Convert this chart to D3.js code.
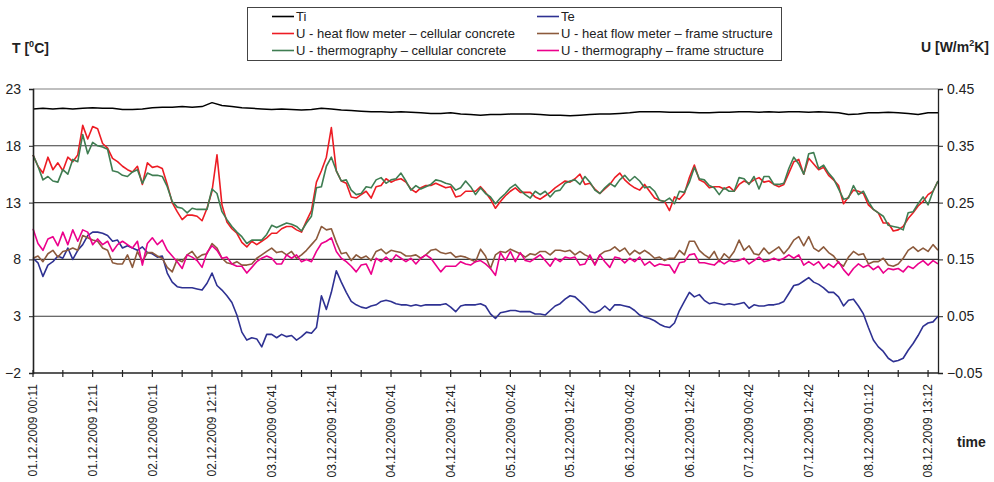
<!DOCTYPE html>
<html>
<head>
<meta charset="utf-8">
<script src="https://cdn.jsdelivr.net/npm/d3@7"></script>
<style>
  html, body { margin: 0; padding: 0; background: #fff; }
  svg { display: block; font-family: "Liberation Sans", Arial, Helvetica, sans-serif; }
</style>
</head>
<body>
<svg id="chart" width="994" height="482"></svg>
<script>
// ---- data (hours since 01.12.2009 00:11) ----
const tiStep = 2;   // hours between Ti readings
const hourStep = 1; // hours between other readings

// Ti [°C]
const tiValues = [
  21.25, 21.3, 21.25, 21.3, 21.25, 21.3, 21.35, 21.3, 21.3, 21.2,
  21.2, 21.25, 21.35, 21.4, 21.4, 21.45, 21.4, 21.45, 21.8, 21.55,
  21.45, 21.35, 21.3, 21.25, 21.2, 21.25, 21.2, 21.15, 21.2, 21.3,
  21.25, 21.15, 21.1, 21.05, 21.0, 21.0, 20.95, 21.0, 20.95, 20.9,
  20.85, 20.85, 20.9, 20.8, 20.75, 20.7, 20.75, 20.75, 20.8, 20.8,
  20.8, 20.75, 20.7, 20.7, 20.65, 20.7, 20.75, 20.8, 20.8, 20.85,
  20.9, 21.0, 21.0, 21.0, 20.95, 20.95, 20.95, 20.9, 20.9, 20.95,
  20.95, 21.0, 21.0, 20.95, 21.0, 20.95, 21.0, 21.0, 20.95, 21.0,
  20.95, 20.9, 20.75, 20.8, 20.9, 20.9, 20.95, 20.9, 20.85, 20.75,
  20.9, 20.9
];

// Te [°C]
const teValues = [
  8.1, 7.7, 6.5, 7.5, 7.8, 8.3, 8.1, 9.0, 8.0, 8.8,
  9.3, 10.1, 10.4, 10.4, 10.3, 10.1, 9.6, 9.7, 9.0, 9.2,
  9.0, 8.8, 9.1, 8.6, 8.5, 8.2, 8.3, 6.8, 6.0, 5.6,
  5.5, 5.5, 5.5, 5.4, 5.3, 5.9, 6.8, 5.7, 5.3, 4.8,
  4.2, 3.1, 1.6, 0.9, 1.1, 1.0, 0.3, 1.4, 1.4, 1.1,
  1.4, 1.2, 1.3, 0.9, 1.2, 1.6, 1.5, 2.0, 4.8, 3.6,
  5.1, 7.0, 6.0, 5.1, 4.3, 4.0, 3.8, 3.7, 3.9, 4.0,
  4.3, 4.4, 4.3, 4.1, 4.0, 4.0, 3.9, 4.0, 3.9, 4.0,
  4.0, 4.0, 4.0, 4.1, 3.8, 3.4, 3.9, 4.0, 4.0, 4.0,
  4.1, 3.9, 3.2, 2.8, 3.3, 3.4, 3.5, 3.5, 3.4, 3.4,
  3.4, 3.2, 3.2, 3.1, 3.5, 3.9, 4.1, 4.5, 4.8, 4.7,
  4.3, 3.9, 3.4, 3.3, 3.5, 3.9, 3.5, 4.0, 4.0, 3.9,
  3.8, 3.5, 3.1, 2.9, 2.8, 2.6, 2.3, 2.1, 2.0, 2.4,
  3.5, 4.3, 5.1, 4.7, 4.9, 4.4, 4.1, 4.2, 4.1, 4.0,
  4.1, 4.0, 4.1, 4.2, 3.7, 4.0, 3.9, 3.9, 4.0, 4.0,
  4.1, 4.3, 5.0, 5.7, 5.8, 6.1, 6.4, 6.0, 5.8, 5.5,
  5.1, 5.1, 4.7, 3.9, 4.4, 4.5, 3.9, 3.2, 2.0, 0.9,
  0.3, -0.1, -0.7, -1.0, -0.9, -0.7, 0.0, 0.6, 1.3, 2.1,
  2.4, 2.5, 3.0
];

// U - heat flow meter – cellular concrete [W/m2K]
const uHfmCellular = [
  0.334, 0.314, 0.302, 0.330, 0.308, 0.320, 0.306, 0.330, 0.322, 0.334,
  0.386, 0.362, 0.384, 0.380, 0.354, 0.346, 0.328, 0.322, 0.314, 0.308,
  0.304, 0.314, 0.282, 0.320, 0.312, 0.314, 0.310, 0.282, 0.250, 0.234,
  0.220, 0.228, 0.228, 0.226, 0.218, 0.240, 0.270, 0.334, 0.246, 0.216,
  0.204, 0.196, 0.180, 0.172, 0.182, 0.176, 0.182, 0.188, 0.196, 0.196,
  0.204, 0.208, 0.208, 0.202, 0.198, 0.218, 0.236, 0.286, 0.306, 0.330,
  0.382, 0.306, 0.288, 0.284, 0.260, 0.258, 0.264, 0.270, 0.258, 0.278,
  0.280, 0.292, 0.286, 0.290, 0.292, 0.286, 0.274, 0.268, 0.276, 0.280,
  0.280, 0.284, 0.280, 0.276, 0.278, 0.260, 0.262, 0.270, 0.270, 0.270,
  0.278, 0.268, 0.256, 0.240, 0.252, 0.262, 0.270, 0.276, 0.268, 0.268,
  0.268, 0.260, 0.256, 0.262, 0.268, 0.276, 0.282, 0.288, 0.286, 0.292,
  0.300, 0.282, 0.284, 0.274, 0.266, 0.274, 0.282, 0.294, 0.302, 0.290,
  0.282, 0.276, 0.272, 0.282, 0.270, 0.258, 0.254, 0.252, 0.236, 0.260,
  0.256, 0.266, 0.294, 0.316, 0.290, 0.286, 0.276, 0.278, 0.278, 0.274,
  0.278, 0.270, 0.282, 0.288, 0.284, 0.290, 0.294, 0.286, 0.288, 0.282,
  0.278, 0.282, 0.302, 0.322, 0.326, 0.300, 0.328, 0.318, 0.308, 0.312,
  0.298, 0.290, 0.280, 0.248, 0.260, 0.272, 0.270, 0.266, 0.246, 0.238,
  0.232, 0.214, 0.214, 0.200, 0.202, 0.208, 0.222, 0.232, 0.244, 0.252,
  0.264, 0.270, 0.288
];

// U - thermography – cellular concrete [W/m2K]
const uThermoCellular = [
  0.334, 0.314, 0.290, 0.296, 0.288, 0.286, 0.308, 0.300, 0.326, 0.322,
  0.370, 0.336, 0.356, 0.350, 0.348, 0.344, 0.306, 0.304, 0.298, 0.296,
  0.304, 0.308, 0.284, 0.302, 0.298, 0.298, 0.296, 0.278, 0.252, 0.242,
  0.240, 0.232, 0.240, 0.238, 0.238, 0.238, 0.274, 0.266, 0.234, 0.220,
  0.208, 0.198, 0.190, 0.178, 0.184, 0.184, 0.184, 0.194, 0.210, 0.206,
  0.210, 0.214, 0.212, 0.208, 0.200, 0.214, 0.226, 0.276, 0.278, 0.314,
  0.330, 0.306, 0.288, 0.290, 0.272, 0.264, 0.266, 0.278, 0.276, 0.290,
  0.294, 0.284, 0.290, 0.292, 0.302, 0.288, 0.272, 0.280, 0.274, 0.278,
  0.282, 0.290, 0.288, 0.284, 0.282, 0.272, 0.276, 0.288, 0.278, 0.264,
  0.276, 0.266, 0.260, 0.248, 0.258, 0.266, 0.276, 0.282, 0.272, 0.264,
  0.258, 0.270, 0.264, 0.270, 0.260, 0.270, 0.272, 0.284, 0.288, 0.290,
  0.282, 0.296, 0.286, 0.272, 0.266, 0.276, 0.284, 0.278, 0.290, 0.298,
  0.288, 0.296, 0.288, 0.276, 0.278, 0.270, 0.254, 0.252, 0.258, 0.248,
  0.270, 0.268, 0.286, 0.312, 0.292, 0.290, 0.280, 0.276, 0.264, 0.276,
  0.270, 0.270, 0.294, 0.292, 0.282, 0.296, 0.274, 0.296, 0.296, 0.282,
  0.282, 0.284, 0.310, 0.330, 0.318, 0.300, 0.336, 0.338, 0.310, 0.316,
  0.302, 0.292, 0.274, 0.256, 0.258, 0.280, 0.264, 0.270, 0.252, 0.238,
  0.232, 0.226, 0.210, 0.208, 0.206, 0.202, 0.232, 0.234, 0.248, 0.260,
  0.246, 0.270, 0.288
];

// U - heat flow meter – frame structure [W/m2K]
const uHfmFrame = [
  0.152, 0.156, 0.146, 0.160, 0.166, 0.154, 0.164, 0.166, 0.170, 0.166,
  0.192, 0.188, 0.184, 0.182, 0.170, 0.166, 0.144, 0.142, 0.142, 0.158,
  0.136, 0.164, 0.146, 0.162, 0.162, 0.156, 0.152, 0.136, 0.128, 0.150,
  0.146, 0.158, 0.164, 0.152, 0.158, 0.160, 0.178, 0.170, 0.152, 0.144,
  0.142, 0.146, 0.140, 0.140, 0.142, 0.152, 0.158, 0.164, 0.170, 0.162,
  0.164, 0.158, 0.164, 0.152, 0.158, 0.166, 0.176, 0.186, 0.208, 0.202,
  0.204, 0.180, 0.160, 0.162, 0.148, 0.158, 0.152, 0.156, 0.148, 0.164,
  0.168, 0.160, 0.166, 0.164, 0.162, 0.156, 0.156, 0.158, 0.152, 0.158,
  0.166, 0.168, 0.162, 0.160, 0.162, 0.154, 0.156, 0.154, 0.150, 0.146,
  0.168, 0.156, 0.134, 0.158, 0.164, 0.162, 0.168, 0.164, 0.160, 0.154,
  0.160, 0.158, 0.164, 0.164, 0.158, 0.166, 0.166, 0.164, 0.166, 0.158,
  0.164, 0.158, 0.154, 0.142, 0.158, 0.164, 0.166, 0.172, 0.164, 0.170,
  0.158, 0.166, 0.160, 0.166, 0.160, 0.152, 0.154, 0.148, 0.152, 0.152,
  0.166, 0.158, 0.182, 0.182, 0.166, 0.158, 0.152, 0.164, 0.146, 0.160,
  0.152, 0.164, 0.184, 0.166, 0.174, 0.160, 0.158, 0.170, 0.160, 0.166,
  0.172, 0.160, 0.170, 0.184, 0.190, 0.174, 0.190, 0.170, 0.164, 0.172,
  0.162, 0.156, 0.144, 0.138, 0.154, 0.164, 0.158, 0.160, 0.142, 0.146,
  0.146, 0.152, 0.140, 0.138, 0.142, 0.152, 0.166, 0.172, 0.164, 0.170,
  0.164, 0.176, 0.166
];

// U - thermography – frame structure [W/m2K]
const uThermoFrame = [
  0.204, 0.178, 0.166, 0.186, 0.190, 0.174, 0.198, 0.176, 0.202, 0.182,
  0.202, 0.198, 0.176, 0.186, 0.176, 0.182, 0.164, 0.176, 0.182, 0.176,
  0.170, 0.182, 0.140, 0.178, 0.188, 0.176, 0.184, 0.166, 0.156, 0.146,
  0.134, 0.158, 0.154, 0.148, 0.136, 0.162, 0.174, 0.166, 0.152, 0.154,
  0.142, 0.138, 0.138, 0.126, 0.136, 0.146, 0.152, 0.156, 0.152, 0.142,
  0.142, 0.158, 0.152, 0.158, 0.146, 0.150, 0.146, 0.164, 0.178, 0.182,
  0.188, 0.164, 0.152, 0.146, 0.138, 0.128, 0.140, 0.142, 0.124, 0.152,
  0.146, 0.154, 0.146, 0.158, 0.152, 0.146, 0.152, 0.142, 0.152, 0.158,
  0.152, 0.140, 0.128, 0.138, 0.138, 0.138, 0.146, 0.142, 0.140, 0.146,
  0.148, 0.142, 0.134, 0.122, 0.162, 0.148, 0.164, 0.146, 0.162, 0.148,
  0.146, 0.152, 0.158, 0.148, 0.138, 0.152, 0.146, 0.154, 0.152, 0.154,
  0.140, 0.142, 0.158, 0.140, 0.158, 0.146, 0.136, 0.154, 0.152, 0.144,
  0.152, 0.146, 0.154, 0.140, 0.146, 0.138, 0.142, 0.140, 0.140, 0.126,
  0.144, 0.146, 0.158, 0.160, 0.144, 0.144, 0.142, 0.140, 0.148, 0.142,
  0.148, 0.146, 0.148, 0.152, 0.142, 0.148, 0.154, 0.146, 0.148, 0.152,
  0.148, 0.152, 0.158, 0.152, 0.158, 0.140, 0.146, 0.140, 0.146, 0.134,
  0.142, 0.136, 0.146, 0.132, 0.122, 0.134, 0.142, 0.136, 0.140, 0.132,
  0.138, 0.126, 0.134, 0.132, 0.134, 0.128, 0.138, 0.134, 0.142, 0.148,
  0.140, 0.148, 0.142
];

const timeLabels = [
  "01.12.2009 00:11", "01.12.2009 12:11", "02.12.2009 00:11", "02.12.2009 12:11",
  "03.12.2009 00:41", "03.12.2009 12:41", "04.12.2009 00:41", "04.12.2009 12:41",
  "05.12.2009 00:42", "05.12.2009 12:42", "06.12.2009 00:42", "06.12.2009 12:42",
  "07.12.2009 00:42", "07.12.2009 12:42", "08.12.2009 01:12", "08.12.2009 13:12"
];
const labelEveryHours = 12;
const minorTickHours = 6;
const totalHours = 182;

const leftTicks = [-2, 3, 8, 13, 18, 23];
const rightTicks = [-0.05, 0.05, 0.15, 0.25, 0.35, 0.45];

const seriesNames = [
  "Ti", "Te",
  "U - heat flow meter \u2013 cellular concrete", "U - heat flow meter \u2013 frame structure",
  "U - thermography \u2013 cellular concrete", "U - thermography \u2013 frame structure"
];
const seriesColors = ["#000000", "#2e3192", "#ed1c24", "#8c5a3c", "#3f7d52", "#ec008c"];

// ---- drawing ----
const svg = d3.select("#chart");
const W = 994, H = 482;
const plot = { left: 33, right: 938, top: 89, bottom: 373 };

svg.append("rect").attr("width", W).attr("height", H).attr("fill", "#fff");

const x = d3.scaleLinear().domain([0, totalHours]).range([plot.left, plot.right]);
const yL = d3.scaleLinear().domain([-2, 23]).range([plot.bottom, plot.top]);
const yR = d3.scaleLinear().domain([-0.05, 0.45]).range([plot.bottom, plot.top]);

// gridlines
svg.append("g").selectAll("line")
  .data(leftTicks.slice(1))
  .join("line")
  .attr("x1", plot.left).attr("x2", plot.right)
  .attr("y1", d => yL(d)).attr("y2", d => yL(d))
  .attr("stroke", (d, i, a) => i === a.length - 1 ? "#808080" : "#3a3a3a")
  .attr("stroke-width", 1.1);

// series
const sets = [
  { values: tiValues, step: tiStep, scale: yL },
  { values: teValues, step: hourStep, scale: yL },
  { values: uHfmCellular, step: hourStep, scale: yR },
  { values: uHfmFrame, step: hourStep, scale: yR },
  { values: uThermoCellular, step: hourStep, scale: yR },
  { values: uThermoFrame, step: hourStep, scale: yR }
];
const drawOrder = [0, 1, 2, 3, 4, 5];
const gSeries = svg.append("g");
drawOrder.forEach(k => {
  const s = sets[k];
  const line = d3.line()
    .x((d, i) => x(i * s.step))
    .y(d => s.scale(d));
  gSeries.append("path")
    .datum(s.values)
    .attr("d", line)
    .attr("fill", "none")
    .attr("stroke", seriesColors[k])
    .attr("stroke-width", k === 0 ? 1.5 : 1.6)
    .attr("stroke-linejoin", "round");
});

// left axis
const axL = svg.append("g")
  .attr("transform", `translate(${plot.left},0)`)
  .call(d3.axisLeft(yL).tickValues(leftTicks).tickFormat(d3.format("d")).tickSize(4).tickPadding(8));
axL.select(".domain").attr("stroke", "#222").attr("stroke-width", 1.6);
axL.selectAll(".tick line").attr("stroke", "#222");
axL.selectAll(".tick text").attr("font-size", 14).attr("fill", "#222")
  .attr("font-family", "Liberation Sans, Arial, sans-serif");

// right axis
const axR = svg.append("g")
  .attr("transform", `translate(${plot.right},0)`)
  .call(d3.axisRight(yR).tickValues(rightTicks).tickFormat(d3.format(".2f")).tickSize(5).tickPadding(4));
axR.select(".domain").attr("stroke", "#222").attr("stroke-width", 1.3);
axR.selectAll(".tick line").attr("stroke", "#222");
axR.selectAll(".tick text").attr("font-size", 14).attr("fill", "#222")
  .attr("font-family", "Liberation Sans, Arial, sans-serif");

// bottom axis
const gB = svg.append("g");
gB.append("line")
  .attr("x1", plot.left).attr("x2", plot.right)
  .attr("y1", plot.bottom).attr("y2", plot.bottom)
  .attr("stroke", "#222").attr("stroke-width", 1.6);
gB.selectAll("line.tick")
  .data(d3.range(0, totalHours, minorTickHours))
  .join("line")
  .attr("class", "tick")
  .attr("x1", d => x(d)).attr("x2", d => x(d))
  .attr("y1", plot.bottom - 3).attr("y2", plot.bottom + 4)
  .attr("stroke", "#222").attr("stroke-width", 1.2);
gB.selectAll("text")
  .data(timeLabels)
  .join("text")
  .attr("transform", (d, i) => `translate(${x(i * labelEveryHours)},384) rotate(-90)`)
  .attr("text-anchor", "end")
  .attr("dy", "0.35em")
  .attr("font-size", 12)
  .attr("fill", "#222")
  .text(d => d);

// axis titles
const tT = svg.append("text").attr("x", 12).attr("y", 53)
  .attr("font-size", 14).attr("font-weight", "bold").attr("fill", "#222");
tT.append("tspan").text("T [");
tT.append("tspan").attr("font-size", 9).attr("dy", -6).text("0");
tT.append("tspan").attr("dy", 6).text("C]");

const tU = svg.append("text").attr("x", 989).attr("y", 52)
  .attr("text-anchor", "end")
  .attr("font-size", 14).attr("font-weight", "bold").attr("fill", "#222");
tU.append("tspan").text("U [W/m");
tU.append("tspan").attr("font-size", 9).attr("dy", -6).text("2");
tU.append("tspan").attr("dy", 6).text("K]");

svg.append("text").attr("x", 957).attr("y", 447)
  .attr("font-size", 14).attr("font-weight", "bold").attr("fill", "#222").text("time");

// legend
const lg = svg.append("g");
lg.append("rect").attr("x", 247.5).attr("y", 7.5).attr("width", 534).attr("height", 53)
  .attr("fill", "#fff").attr("stroke", "#444").attr("stroke-width", 1);
const legCols = [272, 537];
const legRows = [16.5, 33.5, 50.5];
seriesNames.forEach((name, i) => {
  const col = i % 2, row = Math.floor(i / 2);
  const lx = legCols[col], ly = legRows[row];
  lg.append("line").attr("x1", lx).attr("x2", lx + 22).attr("y1", ly).attr("y2", ly)
    .attr("stroke", seriesColors[i]).attr("stroke-width", 1.6);
  lg.append("text").attr("x", lx + 24).attr("y", ly).attr("dy", "0.36em")
    .attr("font-size", 13).attr("fill", "#222").text(name);
});
</script>
</body>
</html>
